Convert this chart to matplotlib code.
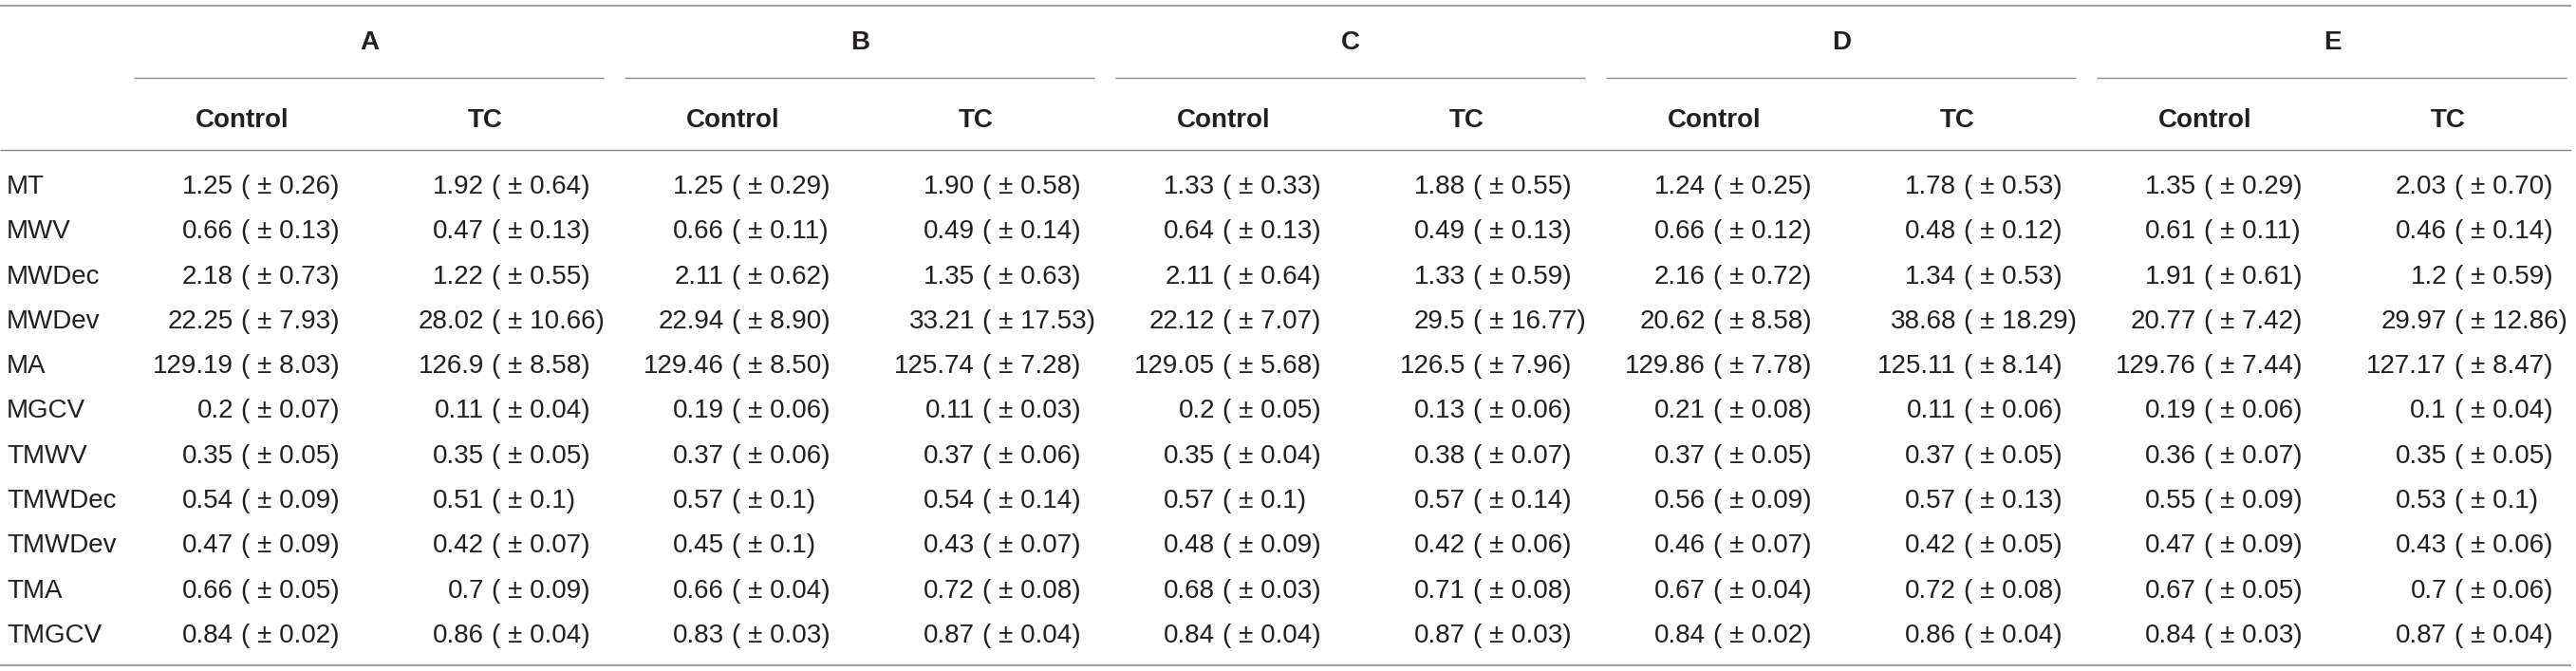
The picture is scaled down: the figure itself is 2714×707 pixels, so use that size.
import matplotlib
matplotlib.use("Agg")
import matplotlib.pyplot as plt


# ---------------------------------
# Data
# ---------------------------------

groups = ["A", "B", "C", "D", "E"]
subcols = ["Control", "TC"]

measures = ["MT", "MWV", "MWDec", "MWDev", "MA", "MGCV",
            "TMWV", "TMWDec", "TMWDev", "TMA", "TMGCV"]

# mean and sd per group / condition, as printed
a_control_mean = ["1.25", "0.66", "2.18", "22.25", "129.19", "0.2", "0.35", "0.54", "0.47", "0.66", "0.84"]
a_control_sd = ["0.26", "0.13", "0.73", "7.93", "8.03", "0.07", "0.05", "0.09", "0.09", "0.05", "0.02"]
a_tc_mean = ["1.92", "0.47", "1.22", "28.02", "126.9", "0.11", "0.35", "0.51", "0.42", "0.7", "0.86"]
a_tc_sd = ["0.64", "0.13", "0.55", "10.66", "8.58", "0.04", "0.05", "0.1", "0.07", "0.09", "0.04"]

b_control_mean = ["1.25", "0.66", "2.11", "22.94", "129.46", "0.19", "0.37", "0.57", "0.45", "0.66", "0.83"]
b_control_sd = ["0.29", "0.11", "0.62", "8.90", "8.50", "0.06", "0.06", "0.1", "0.1", "0.04", "0.03"]
b_tc_mean = ["1.90", "0.49", "1.35", "33.21", "125.74", "0.11", "0.37", "0.54", "0.43", "0.72", "0.87"]
b_tc_sd = ["0.58", "0.14", "0.63", "17.53", "7.28", "0.03", "0.06", "0.14", "0.07", "0.08", "0.04"]

c_control_mean = ["1.33", "0.64", "2.11", "22.12", "129.05", "0.2", "0.35", "0.57", "0.48", "0.68", "0.84"]
c_control_sd = ["0.33", "0.13", "0.64", "7.07", "5.68", "0.05", "0.04", "0.1", "0.09", "0.03", "0.04"]
c_tc_mean = ["1.88", "0.49", "1.33", "29.5", "126.5", "0.13", "0.38", "0.57", "0.42", "0.71", "0.87"]
c_tc_sd = ["0.55", "0.13", "0.59", "16.77", "7.96", "0.06", "0.07", "0.14", "0.06", "0.08", "0.03"]

d_control_mean = ["1.24", "0.66", "2.16", "20.62", "129.86", "0.21", "0.37", "0.56", "0.46", "0.67", "0.84"]
d_control_sd = ["0.25", "0.12", "0.72", "8.58", "7.78", "0.08", "0.05", "0.09", "0.07", "0.04", "0.02"]
d_tc_mean = ["1.78", "0.48", "1.34", "38.68", "125.11", "0.11", "0.37", "0.57", "0.42", "0.72", "0.86"]
d_tc_sd = ["0.53", "0.12", "0.53", "18.29", "8.14", "0.06", "0.05", "0.13", "0.05", "0.08", "0.04"]

e_control_mean = ["1.35", "0.61", "1.91", "20.77", "129.76", "0.19", "0.36", "0.55", "0.47", "0.67", "0.84"]
e_control_sd = ["0.29", "0.11", "0.61", "7.42", "7.44", "0.06", "0.07", "0.09", "0.09", "0.05", "0.03"]
e_tc_mean = ["2.03", "0.46", "1.2", "29.97", "127.17", "0.1", "0.35", "0.53", "0.43", "0.7", "0.87"]
e_tc_sd = ["0.70", "0.14", "0.59", "12.86", "8.47", "0.04", "0.05", "0.1", "0.06", "0.06", "0.04"]

columns = [
    (a_control_mean, a_control_sd), (a_tc_mean, a_tc_sd),
    (b_control_mean, b_control_sd), (b_tc_mean, b_tc_sd),
    (c_control_mean, c_control_sd), (c_tc_mean, c_tc_sd),
    (d_control_mean, d_control_sd), (d_tc_mean, d_tc_sd),
    (e_control_mean, e_control_sd), (e_tc_mean, e_tc_sd),
]


# ---------------------------------
# Layout (pixels)
# ---------------------------------

W, H = 2714, 707
plt.rcParams["font.family"] = ["Liberation Sans", "DejaVu Sans"]
FS = 20
TXT = "#231f20"
RULE = "#8a8a8a"
OUTER = "#a3a3a3"

fig = plt.figure(figsize=(W / 100, H / 100), dpi=100)
ax = fig.add_axes([0, 0, 1, 1])
ax.set_xlim(0, W)
ax.set_ylim(H, 0)
ax.axis("off")

group_step = 517
paren_x0 = [254, 518]
head_x0 = [255, 511]
group_center0 = 389
rule_x0 = (141, 636)

# text baselines
y_group = 52
y_head = 134
y_row0 = 204
row_step = 47.3

# rules
ax.hlines(5.5, 0, 2709, color=OUTER, lw=1.5)
ax.hlines(158, 0, 2709, color=RULE, lw=1.0)
ax.hlines(701, 0, 2709, color=OUTER, lw=1.6)

for g, name in enumerate(groups):
    off = g * group_step
    ax.text(group_center0 + off, y_group, name, ha="center",
            va="baseline", fontsize=FS, fontweight="bold", color=TXT)
    ax.hlines(82, rule_x0[0] + off, rule_x0[1] + off, color=RULE, lw=1.0)
    for s, sub in enumerate(subcols):
        ax.text(head_x0[s] + off, y_head, sub, ha="center",
                va="baseline", fontsize=FS, fontweight="bold", color=TXT)

# body
for i, m in enumerate(measures):
    y = y_row0 + i * row_step
    ax.text(7, y, m, ha="left", va="baseline", fontsize=FS, color=TXT)
    for c, (means, sds) in enumerate(columns):
        px = paren_x0[c % 2] + (c // 2) * group_step
        ax.text(px - 8, y, means[i], ha="right", va="baseline",
                fontsize=FS, color=TXT)
        ax.text(px, y, "( \u00b1 " + sds[i] + ")", ha="left", va="baseline",
                fontsize=FS, color=TXT)

fig.savefig("out.png", dpi=100)
